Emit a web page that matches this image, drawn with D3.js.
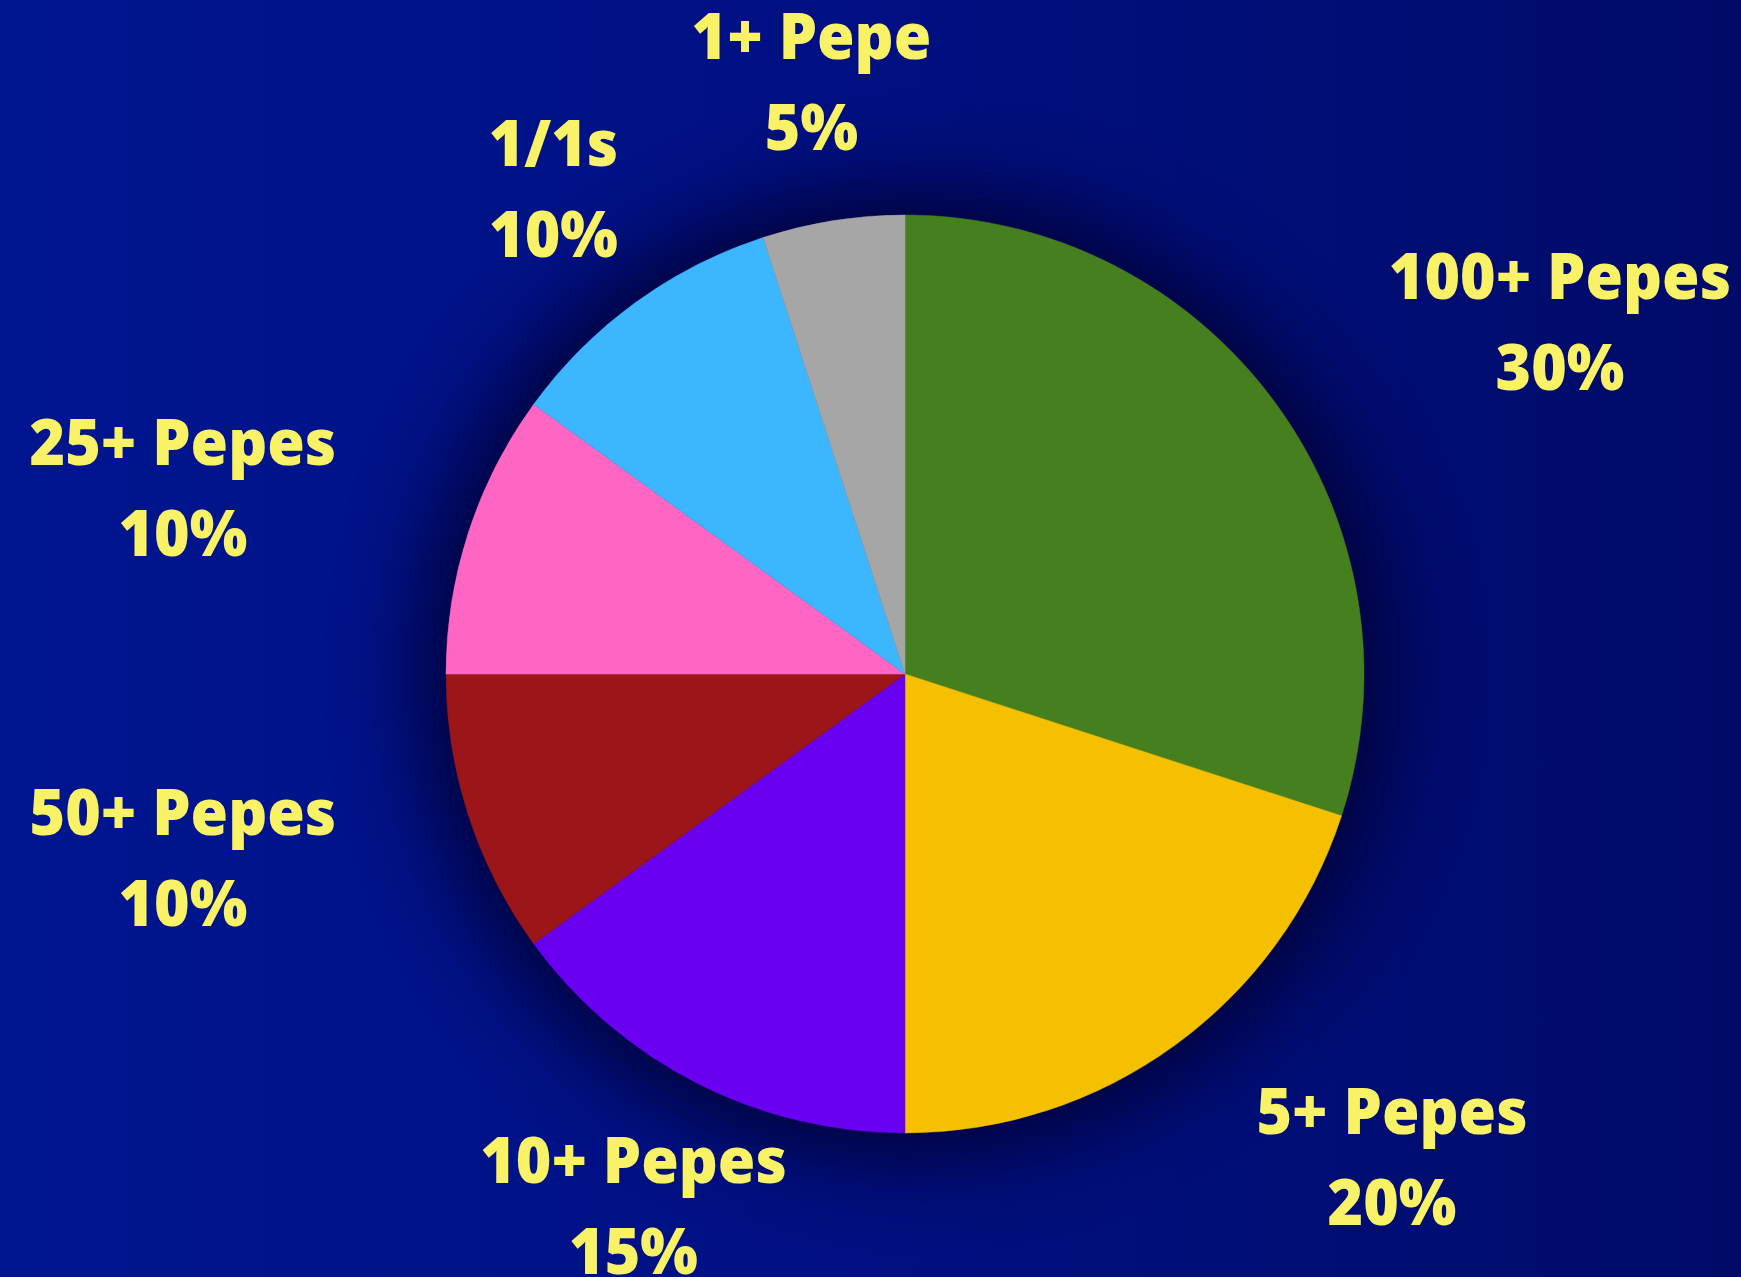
<!DOCTYPE html>
<html>
<head>
<meta charset="utf-8">
<script src="https://cdn.jsdelivr.net/npm/d3@7"></script>
<style>
  html, body { margin: 0; padding: 0; background: #00108A; overflow: hidden; }
  svg { display: block; }
</style>
</head>
<body>
<svg id="chart" width="1741" height="1277"></svg>
<script>
// ---- data ----
const categories = ["100+ Pepes", "5+ Pepes", "10+ Pepes", "50+ Pepes", "25+ Pepes", "1/1s", "1+ Pepe"];
const values = [30, 20, 15, 10, 10, 10, 5];
const percentLabels = ["30%", "20%", "15%", "10%", "10%", "10%", "5%"];
const colors = ["#467F1E", "#F4C000", "#6A00F0", "#9C1518", "#FF66C4", "#3BB6FF", "#A6A6A6"];
// label alignment (layout only)
const labelAnchors = ["start", "start", "middle", "end", "end", "middle", "middle"];

const W = 1741, H = 1277;
const cx = 905, cy = 674, R = 459, labelR = 598;

const svg = d3.select("#chart");
const defs = svg.append("defs");

const bg = defs.append("linearGradient").attr("id", "bg")
  .attr("x1", "0%").attr("y1", "0%").attr("x2", "100%").attr("y2", "0%");
bg.append("stop").attr("offset", "0%").attr("stop-color", "#00158F");
bg.append("stop").attr("offset", "50%").attr("stop-color", "#001082");
bg.append("stop").attr("offset", "100%").attr("stop-color", "#000B68");

const blur = defs.append("filter").attr("id", "shadow")
  .attr("x", "-50%").attr("y", "-50%").attr("width", "200%").attr("height", "200%");
blur.append("feGaussianBlur").attr("stdDeviation", 45);

svg.append("rect").attr("width", W).attr("height", H).attr("fill", "url(#bg)");

const g = svg.append("g").attr("transform", `translate(${cx},${cy})`);

g.append("circle").attr("r", R + 25).attr("fill", "#000530")
  .attr("opacity", 0.95).attr("filter", "url(#shadow)");

const pie = d3.pie().sort(null).value(d => d.value);
const data = categories.map((c, i) => ({ name: c, value: values[i], pct: percentLabels[i], color: colors[i], anchor: labelAnchors[i] }));
const arcs = pie(data);

const arc = d3.arc().innerRadius(0).outerRadius(R);
const labelArc = d3.arc().innerRadius(labelR).outerRadius(labelR);

g.selectAll("path.slice").data(arcs).join("path")
  .attr("class", "slice")
  .attr("d", arc)
  .attr("fill", d => d.data.color)
  .attr("stroke", d => d.data.color)
  .attr("stroke-width", 0.5);

const lineGap = 91;
const labels = g.selectAll("text.lbl").data(arcs).join("text")
  .attr("class", "lbl")
  .attr("text-anchor", d => d.data.anchor)
  .attr("font-family", "'Open Sans', 'DejaVu Sans', sans-serif")
  .attr("font-weight", 800)
  .attr("font-size", 64)
  .attr("fill", "#F9F266")
  .attr("transform", d => {
    const [x, y] = labelArc.centroid(d);
    return `translate(${x},${y}) scale(0.95,1)`;
  });

labels.append("tspan").attr("x", 0).attr("y", -24).text(d => d.data.name);
labels.append("tspan").attr("x", 0).attr("y", -24 + lineGap).text(d => d.data.pct);

// center percentage line under the category for edge-aligned labels
labels.each(function(d) {
  if (d.data.anchor === "middle") return;
  const spans = d3.select(this).selectAll("tspan").nodes();
  const w1 = spans[0].getComputedTextLength();
  const w2 = spans[1].getComputedTextLength();
  const sign = d.data.anchor === "start" ? 1 : -1;
  d3.select(spans[1]).attr("x", sign * (w1 - w2) / 2);
});
</script>
</body>
</html>
